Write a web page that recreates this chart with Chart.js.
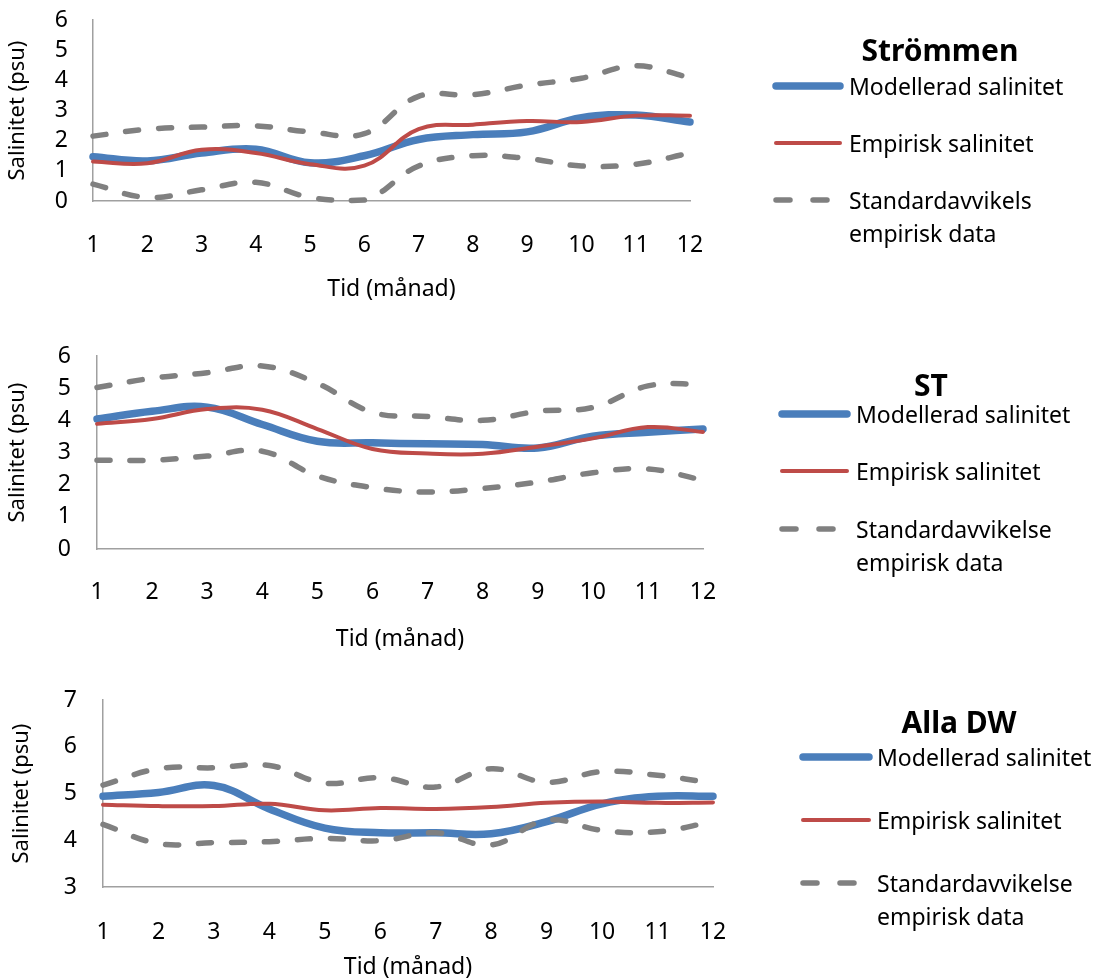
<!DOCTYPE html>
<html>
<head>
<meta charset="utf-8">
<script src="https://cdn.jsdelivr.net/npm/chart.js@4.4.1/dist/chart.umd.min.js"></script>
<style>
  body { margin: 0; width: 1098px; height: 979px; background: #fff; position: relative; overflow: hidden; font-family: 'Noto Sans', sans-serif; color: #000; }
  canvas { position: absolute; left: 0; }
  .lgTitle { position: absolute; font-weight: bold; font-size: 30px; line-height: 1; transform: translate(-50%, -50%); white-space: nowrap; }
  .lgText { position: absolute; font-size: 23px; line-height: 33px; white-space: nowrap; }
  svg { position: absolute; left: 0; top: 0; overflow: visible; }
</style>
</head>
<body>
<canvas id="chartStrommen" width="730" height="310" style="top:0px"></canvas>
<canvas id="chartST" width="730" height="330" style="top:330px"></canvas>
<canvas id="chartDW" width="730" height="299" style="top:680px"></canvas>
<svg id="legendLines" width="1098" height="979"></svg>

<script>
// months on x axis
var months = ["1", "2", "3", "4", "5", "6", "7", "8", "9", "10", "11", "12"];

// Strömmen
var stromModel = [1.47, 1.33, 1.59, 1.72, 1.27, 1.50, 2.04, 2.20, 2.29, 2.76, 2.85, 2.62];
var stromEmp = [1.31, 1.25, 1.70, 1.59, 1.22, 1.17, 2.38, 2.53, 2.65, 2.62, 2.83, 2.83];
var stromUpper = [2.15, 2.38, 2.45, 2.49, 2.29, 2.23, 3.47, 3.52, 3.84, 4.07, 4.48, 4.09];
var stromLower = [0.56, 0.12, 0.37, 0.62, 0.12, 0.03, 1.16, 1.50, 1.41, 1.16, 1.22, 1.59];

// ST
var stModel = [4.04, 4.28, 4.41, 3.87, 3.35, 3.30, 3.27, 3.25, 3.14, 3.51, 3.63, 3.73];
var stEmp = [3.89, 4.04, 4.35, 4.33, 3.73, 3.11, 2.97, 2.96, 3.18, 3.44, 3.79, 3.64];
var stUpper = [5.02, 5.31, 5.48, 5.69, 5.15, 4.25, 4.12, 4.00, 4.28, 4.40, 5.07, 5.13];
var stLower = [2.76, 2.76, 2.89, 3.04, 2.27, 1.91, 1.77, 1.88, 2.08, 2.37, 2.49, 2.14];

// Alla DW
var dwModel = [4.94, 5.02, 5.17, 4.67, 4.26, 4.16, 4.16, 4.14, 4.40, 4.78, 4.94, 4.94];
var dwEmp = [4.76, 4.73, 4.73, 4.78, 4.64, 4.69, 4.67, 4.71, 4.80, 4.83, 4.80, 4.81];
var dwUpper = [5.18, 5.53, 5.55, 5.60, 5.22, 5.34, 5.14, 5.53, 5.24, 5.47, 5.39, 5.22];
var dwLower = [4.34, 3.93, 3.95, 3.97, 4.04, 3.99, 4.16, 3.90, 4.43, 4.21, 4.18, 4.40];

var labelModel = "Modellerad salinitet";
var labelEmp = "Empirisk salinitet";
var xTitle = "Tid (månad)";
var yTitle = "Salinitet (psu)";

var BLUE = "#4a7ebb";
var RED = "#be4b48";
var GREY = "#808080";
var DASH = [13, 20];

Chart.defaults.color = "#000";
Chart.defaults.font.family = "'Noto Sans', sans-serif";

/**
 * Build one of the three line charts
 * box = wanted chart area inside the canvas
 */
function makeChart (id, series, yMin, yMax, box) {
    var canvas = document.getElementById(id);
    var H = canvas.height;
    var W = canvas.width;
    function ds(label, data, color, width, dash, order) {
        return {
            label: label,
            data: data,
            borderColor: color,
            borderWidth: width,
            borderDash: dash,
            borderCapStyle: "round",
            borderJoinStyle: "round",
            pointRadius: 0,
            fill: false,
            tension: 0.4,
            clip: false,
            order: order
        };
    }
    return new Chart(canvas, {
        type: "line",
        data: {
            labels: months,
            datasets: [
                ds(labelModel, series[0], BLUE, 7.5, [], 4),
                ds(labelEmp, series[1], RED, 4, [], 3),
                ds("Standardavvikelse", series[2], GREY, 5.5, DASH, 2),
                ds("Standardavvikelse", series[3], GREY, 5.5, DASH, 1)
            ]
        },
        options: {
            responsive: false,
            animation: false,
            devicePixelRatio: 1,
            layout: { autoPadding: false, padding: { top: box.top, right: W - box.right, left: 0, bottom: 0 } },
            plugins: { legend: { display: false }, tooltip: { enabled: false } },
            scales: {
                x: {
                    type: "category",
                    offset: false,
                    grid: { display: false, drawTicks: false },
                    border: { display: true, color: "#a0a0a0", width: 1.5 },
                    ticks: { font: { size: 23 }, padding: box.xPad, maxRotation: 0, autoSkip: false },
                    title: { display: true, text: xTitle, font: { size: 23, lineHeight: 1 }, padding: { top: 0, bottom: box.xTitlePad } },
                    afterFit: function (scale) {
                        scale.height = H - box.bottom;
                        scale.paddingLeft = 0;
                        scale.paddingRight = 0;
                    }
                },
                y: {
                    min: yMin,
                    max: yMax,
                    grid: { display: false, drawTicks: false },
                    border: { display: true, color: "#a0a0a0", width: 1.5 },
                    ticks: { stepSize: 1, font: { size: 23 }, padding: box.yPad, autoSkip: false },
                    title: { display: true, text: yTitle, font: { size: 22, lineHeight: 1 }, padding: { top: box.yTitlePad, bottom: 0 } },
                    afterFit: function (scale) {
                        scale.width = box.left;
                        scale.paddingTop = 0;
                        scale.paddingBottom = 0;
                    }
                }
            }
        }
    });
}

makeChart("chartStrommen", [stromModel, stromEmp, stromUpper, stromLower], 0, 6,
    { left: 93, top: 20, right: 690, bottom: 201, xPad: 31, yPad: 25, xTitlePad: 9, yTitlePad: 7 });
makeChart("chartST", [stModel, stEmp, stUpper, stLower], 0, 6,
    { left: 97, top: 26, right: 703, bottom: 219, xPad: 30, yPad: 26, xTitlePad: 9, yTitlePad: 7 });
makeChart("chartDW", [dwModel, dwEmp, dwUpper, dwLower], 3, 7,
    { left: 103, top: 20, right: 713, bottom: 207, xPad: 32, yPad: 26, xTitlePad: 0, yTitlePad: 11 });

// legends (drawn as html/svg next to each chart)
var svgNS = "http://www.w3.org/2000/svg";
var svg = document.getElementById("legendLines");
function legendLine(x1, x2, y, color, width, dash) {
    var l = document.createElementNS(svgNS, "line");
    l.setAttribute("x1", x1); l.setAttribute("x2", x2);
    l.setAttribute("y1", y); l.setAttribute("y2", y);
    l.setAttribute("stroke", color);
    l.setAttribute("stroke-width", width);
    l.setAttribute("stroke-linecap", "round");
    if (dash) l.setAttribute("stroke-dasharray", dash);
    svg.appendChild(l);
}
function legendText(x, y, html) {
    var d = document.createElement("div");
    d.className = "lgText";
    d.style.left = x + "px";
    d.style.top = (y - 16.5) + "px";
    d.innerHTML = html;
    document.body.appendChild(d);
}
function addLegend (title, tx, ty, x1, x2, textX, rows, stdevLabel) {
    var t = document.createElement("div");
    t.className = "lgTitle";
    t.style.left = tx + "px";
    t.style.top = ty + "px";
    t.textContent = title;
    document.body.appendChild(t);
    legendLine(x1, x2, rows[0], BLUE, 7.5);
    legendText(textX, rows[0], labelModel);
    legendLine(x1, x2, rows[1], RED, 4);
    legendText(textX, rows[1], labelEmp);
    legendLine(x1, x2, rows[2], GREY, 5.5, "14 23");
    legendText(textX, rows[2], stdevLabel + "<br>empirisk data");
}
addLegend("Strömmen", 940, 50, 776, 840, 849, [86, 143, 200], "Standardavvikels");
addLegend("ST", 931, 385, 782, 847, 856, [414, 471, 529], "Standardavvikelse");
addLegend("Alla DW", 959, 722, 803, 869, 877, [757, 820, 883], "Standardavvikelse");
</script>
</body>
</html>
